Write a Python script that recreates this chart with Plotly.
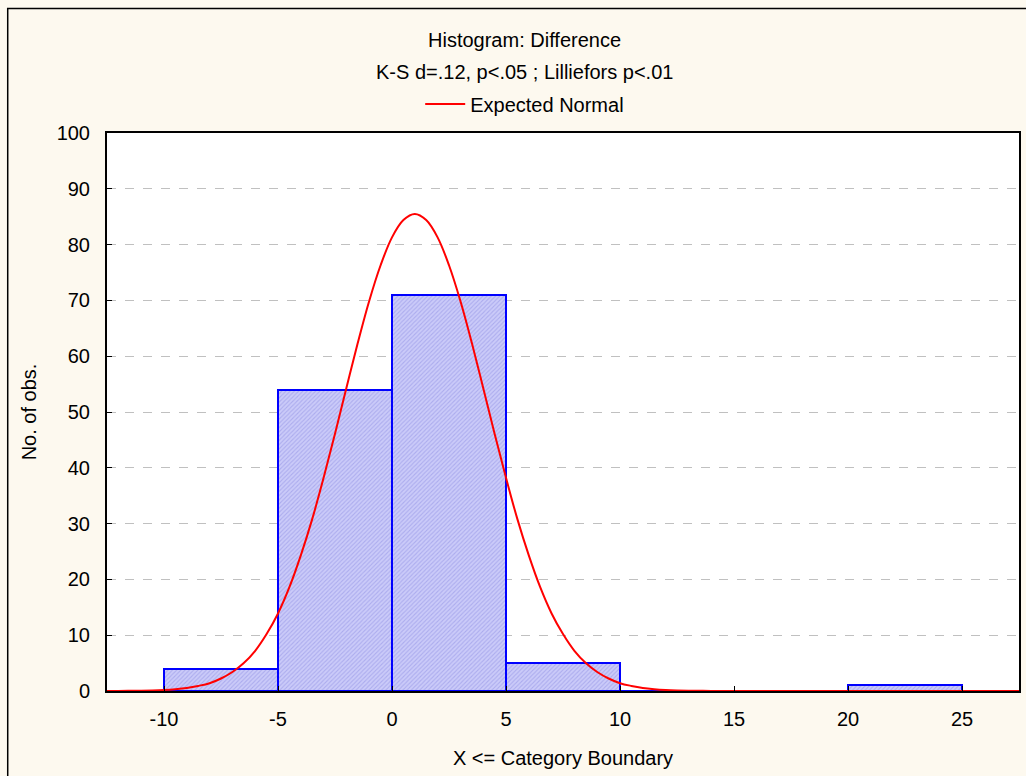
import plotly.graph_objects as go

# Histogram bins (upper category boundaries) and counts
bin_left = [-10, -5, 0, 5, 10, 15, 20]
bin_right = [-5, 0, 5, 10, 15, 20, 25]
counts = [4, 54, 71, 5, 0, 0, 1]

# Expected normal curve values
curve_x = [-12.5, -12, -11.5, -11, -10.5, -10, -9.5, -9, -8.5, -8, -7.5, -7, -6.5, -6, -5.5, -5, -4.5, -4, -3.5,
           -3, -2.5, -2, -1.5, -1, -0.5, 0, 0.5, 1, 1.5, 2, 2.5, 3, 3.5, 4, 4.5, 5, 5.5,
           6, 6.5, 7, 7.5, 8, 8.5, 9, 9.5, 10, 10.5, 11, 11.5, 12, 12.5, 13, 13.5, 14, 14.5, 15, 15.5, 16, 16.5, 17, 17.5,
           18, 18.5, 19, 19.5, 20, 20.5, 21, 21.5, 22, 22.5, 23, 23.5, 24, 24.5, 25, 25.5, 26, 26.5, 27, 27.5]
curve_y = [0.01, 0.02, 0.04, 0.06, 0.11, 0.19, 0.33, 0.55, 0.91, 1.4, 2.24, 3.4, 5.0, 7.2, 10.2, 13.9, 18.6, 24.3, 30.8,
           38.2, 46.1, 54.3, 62.4, 69.9, 76.3, 81.3, 84.4, 85.5, 84.4, 81.3, 76.3, 69.9, 62.4, 54.3, 46.1, 38.2, 30.8,
           24.3, 18.6, 13.9, 10.2, 7.2, 5.0, 3.4, 2.24, 1.4, 0.91, 0.55, 0.33, 0.19, 0.11, 0.06, 0.04, 0.02, 0.01, 0.0, 0.0,
           0.0, 0.0, 0.0, 0.0, 0.0, 0.0, 0.0, 0.0, 0.0, 0.0, 0.0, 0.0, 0.0, 0.0, 0.0, 0.0, 0.0, 0.0, 0.0, 0.0, 0.0, 0.0, 0.0, 0.0]

x_ticks = [-10, -5, 0, 5, 10, 15, 20, 25]
y_ticks = [0, 10, 20, 30, 40, 50, 60, 70, 80, 90, 100]

title1 = "Histogram: Difference"
title2 = "K-S d=.12, p<.05 ; Lilliefors p<.01"

FONT = "Liberation Sans, Arial, sans-serif"
FS = 20

centers = [(a + b) / 2 for a, b in zip(bin_left, bin_right)]
widths = [b - a for a, b in zip(bin_left, bin_right)]

fig = go.Figure()
fig.add_trace(go.Bar(
    x=centers, y=counts, width=widths, showlegend=False,
    marker=dict(color="#c8c8f8",
                line=dict(color="#0000ff", width=2),
                pattern=dict(shape="/", bgcolor="#cbcbf9", fgcolor="#acacee",
                             size=3, solidity=0.35, fillmode="replace")),
    hoverinfo="skip",
))
fig.add_trace(go.Scatter(
    x=curve_x, y=curve_y, mode="lines", name="Expected Normal",
    line=dict(color="#ff0000", width=2, shape="spline", smoothing=1.0),
))

plot_h = 776 - 133 - 85

fig.update_layout(
    width=1026, height=776,
    paper_bgcolor="#fdf9ef", plot_bgcolor="#ffffff",
    margin=dict(l=107, r=5, t=133, b=85),
    font=dict(family=FONT, size=FS, color="#000000"),
    bargap=0,
    showlegend=True,
    legend=dict(x=0.458, xanchor="center", y=1 + (133 - 104) / plot_h, yanchor="middle",
                orientation="h", bgcolor="rgba(0,0,0,0)",
                font=dict(family=FONT, size=FS), itemwidth=40),
    annotations=[
        dict(text=title1, x=0.458, y=1 + (133 - 40) / plot_h, xref="paper", yref="paper",
             yanchor="middle", showarrow=False, font=dict(family=FONT, size=FS)),
        dict(text=title2, x=0.458, y=1 + (133 - 72) / plot_h, xref="paper", yref="paper",
             yanchor="middle", showarrow=False, font=dict(family=FONT, size=FS)),
    ],
)

fig.update_xaxes(
    range=[-12.5, 27.5], tickvals=x_ticks, ticktext=[str(v) for v in x_ticks],
    showgrid=False, zeroline=False,
    showline=True, linecolor="#000000", linewidth=2, mirror=True,
    ticks="inside", ticklen=5, tickcolor="#000000",
    ticklabelstandoff=9,
    title=dict(text="X <= Category Boundary", standoff=22, font=dict(family=FONT, size=FS)),
)
fig.update_yaxes(
    range=[0, 100], tickvals=y_ticks,
    showgrid=True, gridcolor="#c0c0c0", griddash="dash", gridwidth=1,
    zeroline=False,
    showline=True, linecolor="#000000", linewidth=2, mirror=True,
    ticks="inside", ticklen=5, tickcolor="#000000",
    ticklabelstandoff=11,
    title=dict(text="No. of obs.", standoff=15, font=dict(family=FONT, size=FS)),
)

# outer frame
fig.add_shape(type="rect", xref="paper", yref="paper",
              x0=-(107 - 7.5) / (1026 - 112), x1=1.1,
              y0=-0.3, y1=1 + (133 - 8.5) / plot_h,
              line=dict(color="#000000", width=1.5), fillcolor="rgba(0,0,0,0)", layer="below")

fig.write_html("out.html")
